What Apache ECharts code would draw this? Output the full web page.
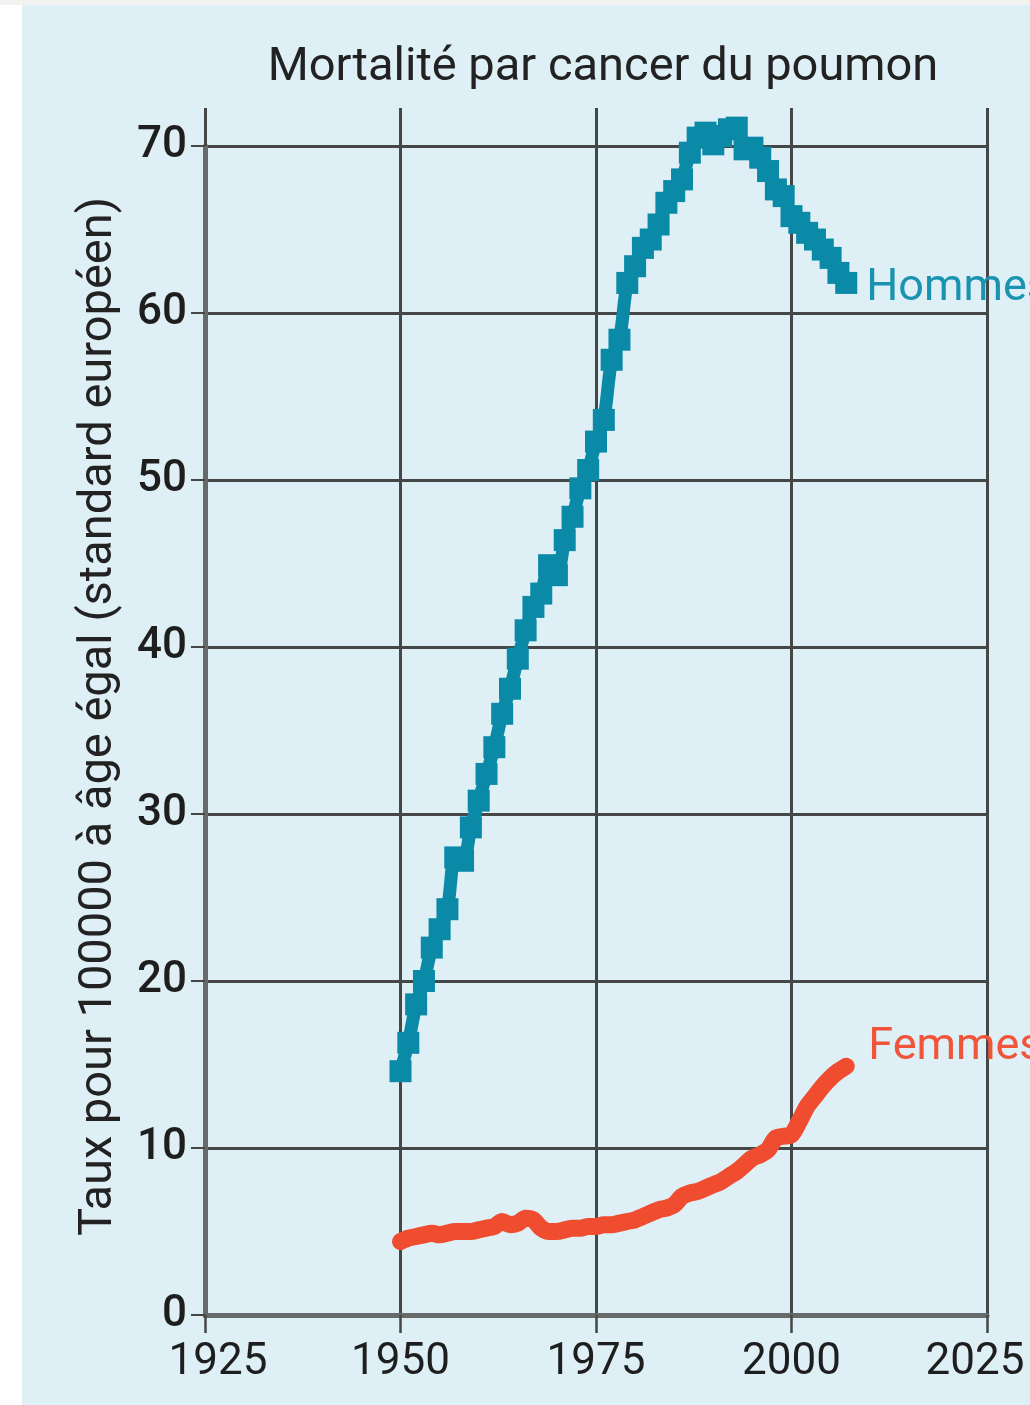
<!DOCTYPE html>
<html>
<head>
<meta charset="utf-8">
<title>Mortalité par cancer du poumon</title>
<script src="https://cdn.jsdelivr.net/npm/echarts@6/dist/echarts.min.js"></script>
<style>
html, body {
	margin: 0;
	padding: 0;
	overflow: hidden;
	background: #ffffff;
}

#chartDom {
	width: 1030px;
	height: 1405px;
}
</style>
</head>
<body>
<div id="chartDom"></div>
<script type="text/javascript">
	// données (taux pour 100000, standard européen)
	var years = [1950, 1951, 1952, 1953, 1954, 1955, 1956, 1957, 1958, 1959,
			1960, 1961, 1962, 1963, 1964, 1965, 1966, 1967, 1968, 1969,
			1970, 1971, 1972, 1973, 1974, 1975, 1976, 1977, 1978, 1979,
			1980, 1981, 1982, 1983, 1984, 1985, 1986, 1987, 1988, 1989,
			1990, 1991, 1992, 1993, 1994, 1995, 1996, 1997, 1998, 1999,
			2000, 2001, 2002, 2003, 2004, 2005, 2006, 2007];

	var hommes = [14.6, 16.3, 18.6, 20.0, 22.0, 23.1, 24.3, 27.4, 27.2, 29.2,
			30.8, 32.4, 34.0, 36.0, 37.5, 39.3, 41.0, 42.4, 43.2, 44.9,
			44.3, 46.4, 47.8, 49.5, 50.6, 52.3, 53.6, 57.2, 58.4, 61.8,
			62.8, 63.9, 64.4, 65.3, 66.6, 67.3, 68.0, 69.6, 70.5, 70.8,
			70.1, 70.6, 71.0, 71.1, 69.8, 69.9, 69.3, 68.5, 67.4, 67.0,
			65.8, 65.4, 64.8, 64.4, 63.8, 63.3, 62.4, 61.8];

	var femmes = [4.4, 4.6, 4.7, 4.8, 4.9, 4.8, 4.9, 5.0, 5.0, 5.0,
			5.1, 5.2, 5.3, 5.6, 5.4, 5.5, 5.8, 5.7, 5.2, 5.0,
			5.0, 5.1, 5.2, 5.2, 5.3, 5.3, 5.4, 5.4, 5.5, 5.6,
			5.7, 5.9, 6.1, 6.3, 6.4, 6.6, 7.1, 7.3, 7.4, 7.6,
			7.8, 8.0, 8.3, 8.6, 9.0, 9.4, 9.6, 9.9, 10.6, 10.7,
			10.8, 11.6, 12.5, 13.1, 13.7, 14.2, 14.6, 14.9];

	var yearTicks = [1925, 1950, 1975, 2000, 2025];
	var rateTicks = [0, 10, 20, 30, 40, 50, 60, 70];

	function pairs(xs, ys) {
		var arr = [];
		for (var i = 0; i < xs.length; i++) {
			arr.push([xs[i], ys[i]]);
		}
		return arr;
	}

	var gridColor = '#454747';
	var axisColor = '#666a6a';
	var fontName = 'Roboto';

	var myChart = echarts.init(document.getElementById('chartDom'));
	var option = {
		backgroundColor : '#dfeff6',
		animation : false,
		textStyle : {
			fontFamily : fontName
		},
		title : {
			text : 'Mortalité par cancer du poumon',
			left : 598,
			textAlign : 'center',
			top : 40,
			textStyle : {
				fontFamily : fontName,
				fontSize : 47,
				fontWeight : 'normal',
				color : '#222222'
			}
		},
		graphic : [ {
			type : 'rect',
			left : 0,
			top : 0,
			shape : { width : 22, height : 1405 },
			style : { fill : '#ffffff' }
		}, {
			type : 'rect',
			left : 0,
			top : 0,
			shape : { width : 1030, height : 5 },
			style : { fill : '#f4f2f1' }
		} ],
		grid : {
			left : 205,
			right : 43,
			top : 146,
			bottom : 90,
			containLabel : false,
			outerBoundsMode : 'none'
		},
		xAxis : [ {
			type : 'value',
			min : yearTicks[0],
			max : yearTicks[yearTicks.length - 1],
			interval : 25,
			axisLine : {
				show : true,
				lineStyle : { color : axisColor, width : 5 }
			},
			axisTick : {
				show : true,
				length : 18,
				lineStyle : { color : gridColor, width : 2.5 }
			},
			axisLabel : {
				margin : 26,
				fontSize : 44,
				color : '#1e1e1e',
				formatter : function(v) {
					// premier et dernier libellé légèrement décalés vers l'intérieur
					if (v === yearTicks[0]) {
						return '{first|' + v + '}';
					}
					if (v === yearTicks[yearTicks.length - 1]) {
						return '{last|' + v + '}';
					}
					return String(v);
				},
				rich : {
					first : {
						fontSize : 44,
						color : '#1e1e1e',
						padding : [ 0, 0, 0, 26 ]
					},
					last : {
						fontSize : 44,
						color : '#1e1e1e',
						padding : [ 0, 24, 0, 0 ]
					}
				}
			},
			splitLine : {
				show : true,
				lineStyle : { color : gridColor, width : 3 }
			}
		}, {
			// prolonge les verticales au-dessus de 70
			type : 'value',
			position : 'top',
			min : yearTicks[0],
			max : yearTicks[yearTicks.length - 1],
			interval : 25,
			axisLine : { show : false },
			axisTick : {
				show : true,
				length : 38,
				lineStyle : { color : gridColor, width : 3 }
			},
			axisLabel : { show : false },
			splitLine : { show : false }
		} ],
		yAxis : [ {
			type : 'value',
			min : rateTicks[0],
			max : rateTicks[rateTicks.length - 1],
			interval : 10,
			name : 'Taux pour 100000 à âge égal (standard européen)',
			nameLocation : 'middle',
			nameGap : 82,
			nameTextStyle : {
				fontFamily : fontName,
				fontSize : 47,
				color : '#222222',
				padding : [ 0, 0, 0, 28 ]
			},
			axisLine : {
				show : true,
				lineStyle : { color : axisColor, width : 5 }
			},
			axisTick : {
				show : true,
				length : 14,
				lineStyle : { color : gridColor, width : 2 }
			},
			axisLabel : {
				margin : 18,
				fontSize : 44,
				fontWeight : 500,
				color : '#1e1e1e'
			},
			splitLine : {
				show : true,
				lineStyle : { color : gridColor, width : 3 }
			}
		} ],
		series : [ {
			name : 'Hommes',
			type : 'line',
			clip : false,
			smooth : 0.3,
			symbol : 'rect',
			symbolSize : 22,
			lineStyle : { width : 13, color : '#0a8aa6' },
			itemStyle : { color : '#0a8aa6' },
			data : pairs(years, hommes),
			endLabel : {
				show : true,
				formatter : '{a}',
				distance : 20,
				offset : [ 0, 6 ],
				fontSize : 45,
				color : '#1a93b0'
			}
		}, {
			name : 'Femmes',
			type : 'line',
			clip : false,
			smooth : 0.3,
			showSymbol : false,
			lineStyle : { width : 17, color : '#ef4c30', cap : 'round' },
			itemStyle : { color : '#ef4c30' },
			data : pairs(years, femmes),
			endLabel : {
				show : true,
				formatter : '{a}',
				distance : 22,
				offset : [ 0, -18 ],
				fontSize : 45,
				color : '#f0553a'
			}
		} ]
	};
	myChart.setOption(option);
</script>
</body>
</html>
